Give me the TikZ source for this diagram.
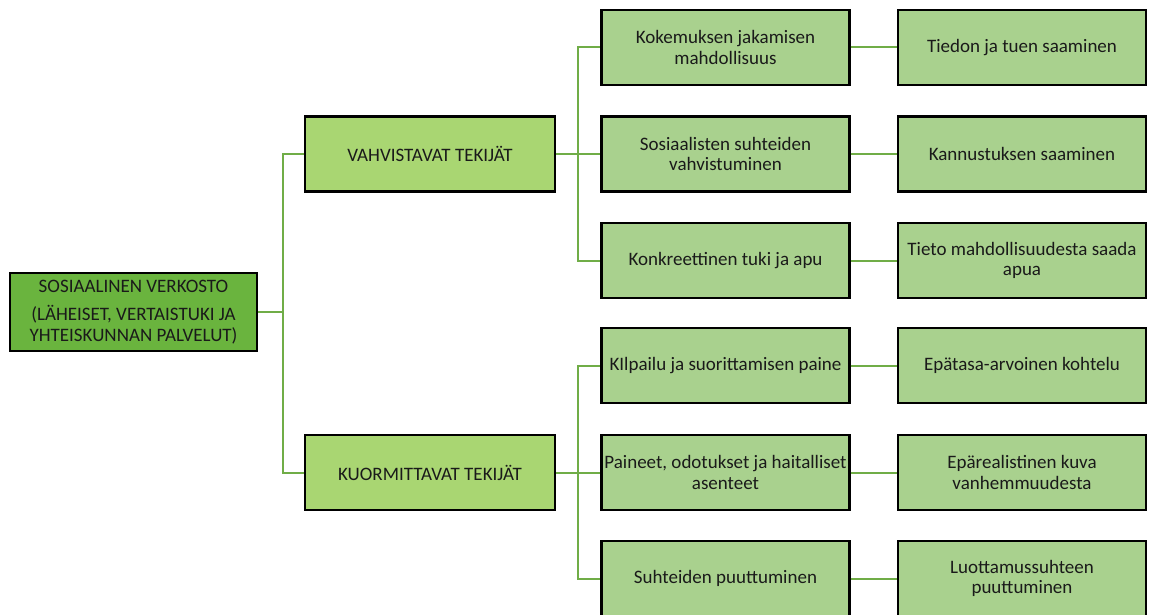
\documentclass[tikz,border=0pt]{standalone}
\usepackage{fontspec}
\setmainfont{Carlito}
\usetikzlibrary{calc}
\definecolor{rootfill}{HTML}{6AB43E}
\definecolor{mainfill}{HTML}{A9D672}
\definecolor{subfill}{HTML}{A9D18E}
\definecolor{linkgreen}{HTML}{70AD47}
\definecolor{inkgray}{HTML}{1A1A1A}

\begin{document}
\begin{tikzpicture}[x=1pt,y=-1pt,
    box/.style={draw=black, line width=2.2pt, minimum width=248pt, minimum height=75pt,
        align=center, inner sep=0pt, text=inkgray, font=\fontsize{19}{20.5}\selectfont},
    link/.style={draw=linkgreen, line width=2pt}]
        \useasboundingbox (0,0) rectangle (1149,615);
        % root and the two main groups
        \node[box, fill=rootfill, minimum width=247pt, minimum height=78pt] (root) at (133.5,312)
            {SOSIAALINEN VERKOSTO\\[8pt](LÄHEISET, VERTAISTUKI JA\\YHTEISKUNNAN PALVELUT)};
        \node[box, fill=mainfill, minimum width=250pt] (vah) at (430,154) {VAHVISTAVAT TEKIJÄT};
        \node[box, fill=mainfill, minimum width=250pt] (kuo) at (430,472.5) {KUORMITTAVAT TEKIJÄT};
        % middle column
        \node[box, fill=subfill] (kok) at (725.5,47.5) {Kokemuksen jakamisen\\mahdollisuus};
        \node[box, fill=subfill] (sos) at (725.5,154) {Sosiaalisten suhteiden\\vahvistuminen};
        \node[box, fill=subfill] (kon) at (725.5,260.5) {Konkreettinen tuki ja apu};
        \node[box, fill=subfill] (kil) at (725.5,365.5) {KIlpailu ja suorittamisen paine};
        \node[box, fill=subfill] (pai) at (725.5,472.5) {Paineet, odotukset ja haitalliset\\asenteet};
        \node[box, fill=subfill] (suh) at (725.5,578.5) {Suhteiden puuttuminen};
        % right column
        \node[box, fill=subfill] (tie) at (1022,47.5) {Tiedon ja tuen saaminen};
        \node[box, fill=subfill] (kan) at (1022,154) {Kannustuksen saaminen};
        \node[box, fill=subfill] (tma) at (1022,260.5) {Tieto mahdollisuudesta saada\\apua};
        \node[box, fill=subfill] (epa) at (1022,365.5) {Epätasa-arvoinen kohtelu};
        \node[box, fill=subfill] (epr) at (1022,472.5) {Epärealistinen kuva\\vanhemmuudesta};
        \node[box, fill=subfill] (luo) at (1022,578.5) {Luottamussuhteen\\puuttuminen};
        % branch points
        \coordinate (j0) at (283,312);
        \coordinate (j1) at (578,154);
        \coordinate (j2) at (578,472.5);
        \draw[link] (root.east) -- (j0);
        \draw[link] (j0) |- (vah.west);
        \draw[link] (j0) |- (kuo.west);
        \draw[link] (vah.east) -- (j1);
        \draw[link] (j1) |- (kok.west);
        \draw[link] (j1) -- (sos.west);
        \draw[link] (j1) |- (kon.west);
        \draw[link] (kuo.east) -- (j2);
        \draw[link] (j2) |- (kil.west);
        \draw[link] (j2) -- (pai.west);
        \draw[link] (j2) |- (suh.west);
        \draw[link] (kok.east) -- (tie.west);
        \draw[link] (sos.east) -- (kan.west);
        \draw[link] (kon.east) -- (tma.west);
        \draw[link] (kil.east) -- (epa.west);
        \draw[link] (pai.east) -- (epr.west);
        \draw[link] (suh.east) -- (luo.west);
    \end{tikzpicture}
\end{document}
